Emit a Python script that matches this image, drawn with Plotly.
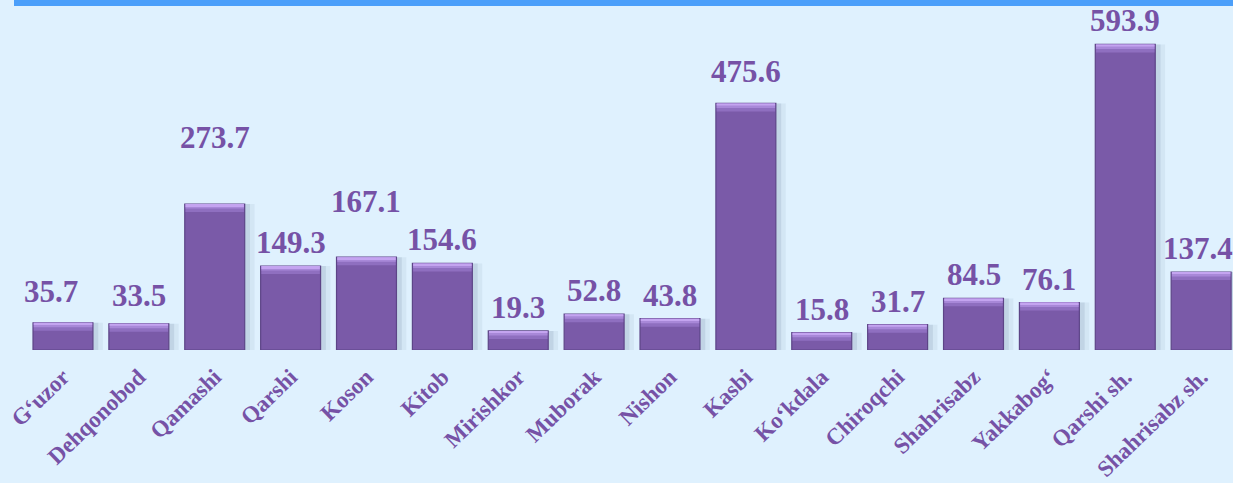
import plotly.graph_objects as go

# districts of Qashqadaryo and their values
districts = ["G‘uzor", "Dehqonobod", "Qamashi", "Qarshi", "Koson", "Kitob",
             "Mirishkor", "Muborak", "Nishon", "Kasbi", "Ko‘kdala", "Chiroqchi",
             "Shahrisabz", "Yakkabog‘", "Qarshi sh.", "Shahrisabz sh."]
values = [35.7, 33.5, 273.7, 149.3, 167.1, 154.6, 19.3, 52.8, 43.8, 475.6,
          15.8, 31.7, 84.5, 76.1, 593.9, 137.4]

# extra label lift / nudge (pixels) where the original labels sit off the usual spot
label_lift = [8, 5, 43, 0, 32, 0, 0, 0, 0, 8, 0, 0, 0, 0, 0, 0]
label_nudge = [-12, 0, 0, 0, 0, 0, 0, 0, 0, 0, 0, 0, 0, 0, 0, -3]

BG = "#dff1fe"
BAR = "#7a5aa8"
TXT = "#7652a6"
FONT = "Liberation Serif"
Y0, Y1 = -19, 683          # axis floor (bars start here) and top
W = 0.79
OFF = -W / 2

fig = go.Figure()

# soft shadow to the right of each bar
for dx, a in [(0.13, 0.10), (0.07, 0.18)]:
    fig.add_trace(go.Bar(x=districts, y=[v - Y0 for v in values], base=Y0,
                         width=W, offset=OFF + dx,
                         marker=dict(color=f"rgba(110,135,160,{a})", line_width=0),
                         hoverinfo="skip", showlegend=False))

# main bars
fig.add_trace(go.Bar(x=districts, y=[v - Y0 for v in values], base=Y0,
                     width=W, offset=OFF,
                     marker=dict(color=BAR, line=dict(color="#5d4587", width=1.2)),
                     hovertemplate="%{x}: %{customdata}<extra></extra>",
                     customdata=values, showlegend=False))

# bevel highlight at the top of each bar
for h, col in [(16, "#8f6fc0"), (9, "#a888d8"), (4, "#c4a4f0")]:
    fig.add_trace(go.Bar(x=districts, y=[h] * len(values),
                         base=[v - h for v in values],
                         width=W - 0.02, offset=OFF + 0.01,
                         marker=dict(color=col, line_width=0),
                         hoverinfo="skip", showlegend=False))

for i, (d, v) in enumerate(zip(districts, values)):
    fig.add_annotation(x=d, y=v, text=f"{v:.1f}", showarrow=False,
                       yanchor="bottom", yshift=4 + label_lift[i],
                       xshift=label_nudge[i],
                       font=dict(family=FONT, size=31, color=TXT, weight="bold"))

# blue band along the top edge
fig.add_shape(type="rect", xref="paper", yref="paper",
              x0=14 / 1233, x1=1, y0=1 - 6 / 350, y1=1.01,
              fillcolor="#4b9ffa", line_width=0, layer="above")

fig.update_layout(
    width=1233, height=483,
    barmode="overlay",
    paper_bgcolor=BG, plot_bgcolor=BG,
    margin=dict(l=0, r=0, t=0, b=133),
    xaxis=dict(range=[-0.83, 15.42], tickangle=-44, showgrid=False,
               showline=False, zeroline=False, ticks="", ticklabelstandoff=8,
               tickfont=dict(family=FONT, size=23, color=TXT, weight="bold")),
    yaxis=dict(range=[Y0, Y1], visible=False, showgrid=False, zeroline=False),
)

fig.write_html("out.html", config={"displayModeBar": False},
               post_script="document.body.style.margin='0';"
                           f"document.body.style.background='{BG}';")
